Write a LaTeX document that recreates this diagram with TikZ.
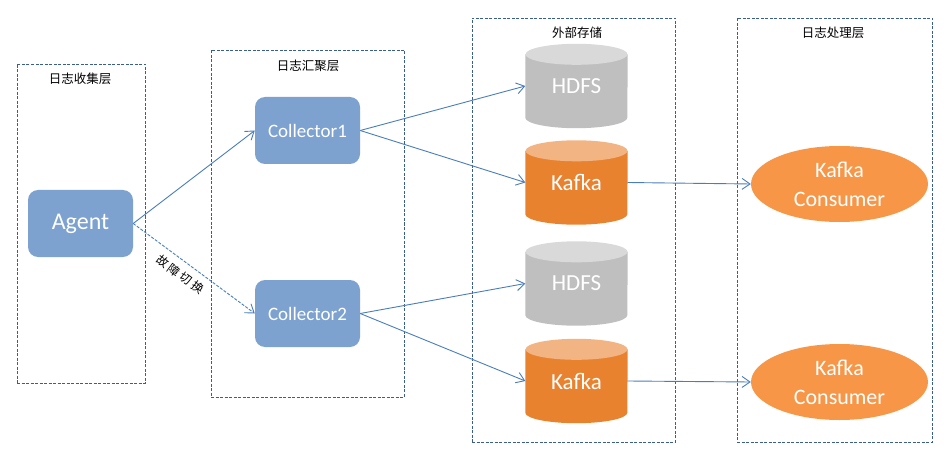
\documentclass[tikz,border=0pt]{standalone}
\usepackage{fontspec}
\setmainfont{Carlito}
\newfontfamily\cjk{Noto Sans CJK SC}
\usetikzlibrary{arrows.meta,shapes.geometric,backgrounds}
\definecolor{panelc}{HTML}{3A5F8E}
\definecolor{linec}{HTML}{4A7EBB}
\definecolor{boxc}{HTML}{7DA2CF}
\definecolor{hdfsbody}{HTML}{BFBFBF}
\definecolor{hdfstop}{HTML}{D9D9D9}
\definecolor{kafbody}{HTML}{E9822F}
\definecolor{kaftop}{HTML}{F2B483}
\definecolor{consc}{HTML}{F79646}
\newcommand{\mycyl}[3]{%
  \fill[#2] ([yshift=-10.5pt]#1.north west) -- ([yshift=10.5pt]#1.south west)
    arc[start angle=180,end angle=360,x radius=51pt,y radius=10.5pt]
    -- ([yshift=-10.5pt]#1.north east) -- cycle;
  \fill[#3] ([yshift=-10.5pt]#1.north) ellipse[x radius=51pt,y radius=10.5pt];}
\begin{document}
\begin{tikzpicture}[x=1pt,y=1pt,
  panel/.style={draw=panelc,line width=0.9pt,dash pattern=on 3pt off 1.5pt},
  ptitle/.style={font=\cjk\fontsize{12.5}{14}\selectfont,inner sep=0pt},
  rbox/.style={fill=boxc,rounded corners=10pt,minimum width=105pt,minimum height=67pt,text=white,inner sep=0pt},
  cylbox/.style={minimum width=102pt,minimum height=84pt,inner sep=0pt,text=white,font=\fontsize{23}{26}\selectfont},
  cons/.style={ellipse,fill=consc,minimum width=177pt,minimum height=76pt,inner sep=0pt,text=white,align=center,font=\fontsize{22}{29}\selectfont},
  conn/.style={draw=linec,line width=0.9pt,-{Straight Barb[length=8pt,width=11pt,line width=0.9pt]}}]
\useasboundingbox (0,0) rectangle (947,-457);
% panels
\node[panel,minimum width=128pt,minimum height=319pt,inner sep=0pt] (p1) at (81,-223.5) {};
\node[panel,minimum width=193pt,minimum height=347pt,inner sep=0pt] (p2) at (307.5,-223.5) {};
\node[panel,minimum width=203pt,minimum height=424pt,inner sep=0pt] (p3) at (573.5,-230) {};
\node[panel,minimum width=195pt,minimum height=424pt,inner sep=0pt] (p4) at (834.5,-230) {};
\node[ptitle] (t1) at (80,-79) {日志收集层};
\node[ptitle] (t2) at (308,-66) {日志汇聚层};
\node[ptitle] (t3) at (577,-33) {外部存储};
\node[ptitle] (t4) at (833,-32.5) {日志处理层};
% boxes
\node[rbox,font=\fontsize{24}{28}\selectfont] (agent) at (80.5,-223.5) {Agent};
\node[rbox,font=\fontsize{19}{22}\selectfont] (c1) at (307.5,-130.5) {Collector1};
\node[rbox,font=\fontsize{19}{22}\selectfont] (c2) at (307.5,-313.5) {Collector2};
% cylinders
\node[cylbox] (h1) at (576.5,-86) {HDFS};
\node[cylbox] (k1) at (576.5,-182.5) {Kafka};
\node[cylbox] (h2) at (576.5,-283.5) {HDFS};
\node[cylbox] (k2) at (576.5,-381) {Kafka};
\begin{scope}[on background layer]
  \mycyl{h1}{hdfsbody}{hdfstop}
  \mycyl{k1}{kafbody}{kaftop}
  \mycyl{h2}{hdfsbody}{hdfstop}
  \mycyl{k2}{kafbody}{kaftop}
\end{scope}
% consumers
\node[cons] (q1) at (839.5,-184) {Kafka\\Consumer};
\node[cons] (q2) at (839.5,-382) {Kafka\\Consumer};
% connectors
\draw[conn] (agent.east) -- (c1.west);
\draw[conn,dash pattern=on 3pt off 1.5pt] (agent.east) -- node[pos=0.45,sloped,anchor=north,inner sep=7pt,font=\cjk\fontsize{12}{14}\selectfont] {故\hspace{2.5pt}障\hspace{2.5pt}切\hspace{2.5pt}换} (c2.west);
\draw[conn] (c1.east) -- (h1.west);
\draw[conn] (c1.east) -- (k1.west);
\draw[conn] (c2.east) -- (h2.west);
\draw[conn] (c2.east) -- (k2.west);
\draw[conn] (k1.east) -- (q1.west);
\draw[conn] (k2.east) -- (q2.west);
\end{tikzpicture}
\end{document}
